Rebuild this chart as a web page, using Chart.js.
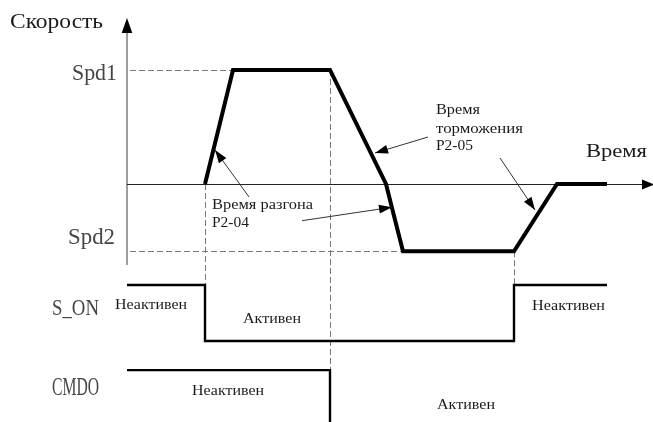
<!DOCTYPE html>
<html>
<head>
<meta charset="utf-8">
<script src="https://cdn.jsdelivr.net/npm/chart.js@4/dist/chart.umd.min.js"></script>
<style>
    html, body { margin: 0; padding: 0; background: #fff; }
    canvas { display: block; }
</style>
</head>
<body>
<canvas id="timing" width="653" height="422"></canvas>
<script>
// time in ms from the speed axis, speed in rpm
const spd1 = 1000;
const spd2 = -590;
const speedTime = [78, 106, 203, 259, 265, 276, 387, 430, 480];
const speedValue = [0, spd1, spd1, 0, -210, spd2, spd2, 0, 0];

// S_ON: 1 = high, 0 = low; CMDO sits one row lower
const sonTime = [0, 78, 78, 387, 387, 480];
const sonLevel = [1, 1, 0, 0, 1, 1];
const cmdoTime = [0, 203, 203];
const cmdoLevel = [-0.52, -0.52, -1.6];

// dashed guides
const levelGuideEnd = [203, 276];
const levelGuideValue = [spd1, spd2];
const edgeTime = [78, 203, 387];
const edgeSpeedFrom = [0, spd1, spd2];
const edgeSignalTo = [1, -0.52, 1];

// annotation arrows (tip / tail, in time + speed)
const arrowTipTime = [88, 265, 248, 408];
const arrowTipSpeed = [298, -204, 272, -228];
const arrowTailTime = [122, 175, 301, 373];
const arrowTailSpeed = [-114, -322, 412, 228];

const toPoints = (xs, ys) => xs.map((x, i) => ({ x: x, y: ys[i] }));

const serif = '"Liberation Serif", "Times New Roman", serif';
const darkText = '#1a1a1a';
const greyText = '#454545';

function fitText(ctx, s, x, baseline, w, size, color) {
    ctx.font = size + 'px ' + serif;
    const m = ctx.measureText(s).width;
    ctx.save();
    ctx.translate(x, baseline);
    ctx.scale(w / m, 1);
    ctx.fillStyle = color;
    ctx.textBaseline = 'alphabetic';
    ctx.fillText(s, 0, 0);
    ctx.restore();
}

function arrowHead(ctx, fx, fy, tx, ty, len, half) {
    const a = Math.atan2(ty - fy, tx - fx);
    ctx.beginPath();
    ctx.moveTo(tx, ty);
    ctx.lineTo(tx - len * Math.cos(a) + half * Math.sin(a), ty - len * Math.sin(a) - half * Math.cos(a));
    ctx.lineTo(tx - len * Math.cos(a) - half * Math.sin(a), ty - len * Math.sin(a) + half * Math.cos(a));
    ctx.closePath();
    ctx.fill();
}

const diagramPlugin = {
    id: 'diagram',
    beforeDatasetsDraw(chart) {
        const ctx = chart.ctx;
        const xs = chart.scales.x, ys = chart.scales.y, ss = chart.scales.sig;
        const x0 = xs.getPixelForValue(0);
        const y0 = ys.getPixelForValue(0);

        ctx.save();
        ctx.strokeStyle = '#7a7a7a';
        ctx.lineWidth = 1;
        ctx.setLineDash([6, 3]);
        levelGuideEnd.forEach((t, i) => {
            const py = Math.round(ys.getPixelForValue(levelGuideValue[i])) + 0.5;
            ctx.beginPath();
            ctx.moveTo(x0 + 3, py);
            ctx.lineTo(xs.getPixelForValue(t), py);
            ctx.stroke();
        });
        edgeTime.forEach((t, i) => {
            const px = Math.round(xs.getPixelForValue(t)) + 0.5;
            ctx.beginPath();
            ctx.moveTo(px, ys.getPixelForValue(edgeSpeedFrom[i]));
            ctx.lineTo(px, ss.getPixelForValue(edgeSignalTo[i]));
            ctx.stroke();
        });
        ctx.setLineDash([]);

        // speed axis
        ctx.strokeStyle = '#6a6a6a';
        ctx.lineWidth = 1.3;
        ctx.beginPath();
        ctx.moveTo(x0, 265);
        ctx.lineTo(x0, 30);
        ctx.stroke();
        ctx.fillStyle = '#000';
        arrowHead(ctx, x0, 40, x0, 18, 15, 5.3);

        // time axis
        ctx.strokeStyle = '#222';
        ctx.lineWidth = 1;
        ctx.beginPath();
        ctx.moveTo(x0, Math.round(y0) + 0.5);
        ctx.lineTo(645, Math.round(y0) + 0.5);
        ctx.stroke();
        arrowHead(ctx, 630, Math.round(y0) + 0.5, 654, Math.round(y0) + 0.5, 12, 5);
        ctx.restore();
    },
    afterDatasetsDraw(chart) {
        const ctx = chart.ctx;
        const xs = chart.scales.x, ys = chart.scales.y;
        ctx.save();
        arrowTipTime.forEach((t, i) => {
            const tx = xs.getPixelForValue(t), ty = ys.getPixelForValue(arrowTipSpeed[i]);
            const fx = xs.getPixelForValue(arrowTailTime[i]), fy = ys.getPixelForValue(arrowTailSpeed[i]);
            ctx.strokeStyle = '#333';
            ctx.lineWidth = 1;
            ctx.beginPath();
            ctx.moveTo(fx, fy);
            ctx.lineTo(tx, ty);
            ctx.stroke();
            ctx.fillStyle = '#000';
            arrowHead(ctx, fx, fy, tx, ty, 13, 4.5);
        });

        const spd1Y = ys.getPixelForValue(spd1);
        const spd2Y = ys.getPixelForValue(spd2);
        fitText(ctx, 'Скорость', 10, 28, 93, 20.5, darkText);
        fitText(ctx, 'Spd1', 72, spd1Y + 10, 45, 23, greyText);
        fitText(ctx, 'Spd2', 68, spd2Y - 7, 47, 23, greyText);
        fitText(ctx, 'Время', 586, 157, 61, 19, darkText);
        fitText(ctx, 'Время разгона', 212, 209, 101, 15.5, darkText);
        fitText(ctx, 'P2-04', 212, 227, 37, 15.5, darkText);
        fitText(ctx, 'Время', 436, 114, 44, 15.5, darkText);
        fitText(ctx, 'торможения', 436, 133, 87, 15.5, darkText);
        fitText(ctx, 'P2-05', 436, 150, 37, 15.5, darkText);
        fitText(ctx, 'S_ON', 52, 315, 47, 24, greyText);
        fitText(ctx, 'CMDO', 52, 395, 47, 25, greyText);
        fitText(ctx, 'Неактивен', 115, 309, 72, 15, darkText);
        fitText(ctx, 'Активен', 243, 323, 58, 15, darkText);
        fitText(ctx, 'Неактивен', 532, 310, 73, 15, darkText);
        fitText(ctx, 'Неактивен', 192, 395, 72, 15, darkText);
        fitText(ctx, 'Активен', 437, 409, 58, 15, darkText);
        ctx.restore();
    }
};

new Chart(document.getElementById('timing'), {
    type: 'scatter',
    data: {
        datasets: [
            {
                label: 'Скорость',
                data: toPoints(speedTime, speedValue),
                yAxisID: 'y',
                showLine: true,
                borderColor: '#000',
                borderWidth: 4,
                borderJoinStyle: 'miter',
                pointRadius: 0,
                tension: 0,
            },
            {
                label: 'S_ON',
                data: toPoints(sonTime, sonLevel),
                yAxisID: 'sig',
                showLine: true,
                borderColor: '#000',
                borderWidth: 2.4,
                borderJoinStyle: 'miter',
                pointRadius: 0,
                tension: 0,
            },
            {
                label: 'CMDO',
                data: toPoints(cmdoTime, cmdoLevel),
                yAxisID: 'sig',
                showLine: true,
                borderColor: '#000',
                borderWidth: 2.4,
                borderJoinStyle: 'miter',
                pointRadius: 0,
                tension: 0,
            },
        ],
    },
    options: {
        responsive: false,
        animation: false,
        devicePixelRatio: 1,
        layout: { padding: 0 },
        scales: {
            x: { type: 'linear', min: -127, max: 526, display: false },
            y: { type: 'linear', min: -2088, max: 1614, display: false },
            sig: { type: 'linear', min: -1.446, max: 6.089, display: false },
        },
        plugins: {
            legend: { display: false },
            tooltip: { enabled: false },
        },
    },
    plugins: [diagramPlugin],
});
</script>
</body>
</html>
